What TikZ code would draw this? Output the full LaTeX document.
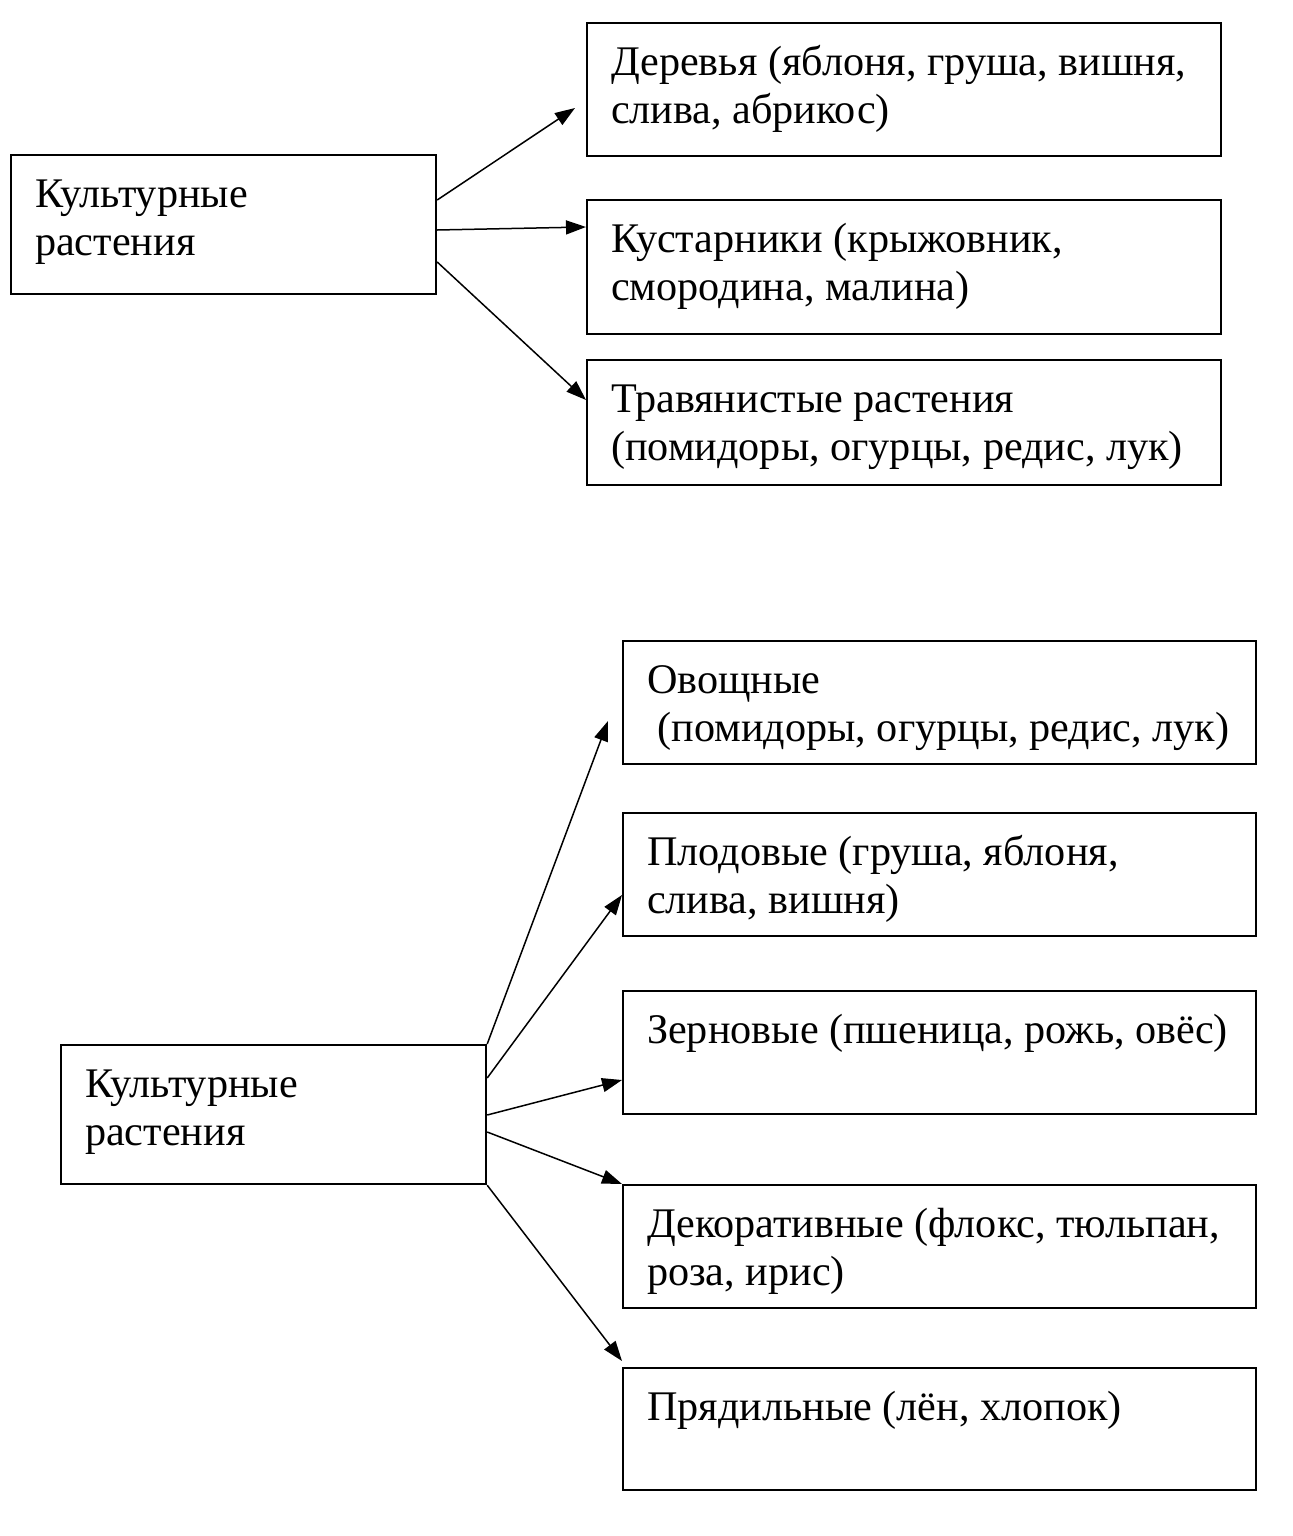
\documentclass[tikz,border=0pt]{standalone}
\usepackage{fontspec}
\setmainfont{Liberation Serif}
\usetikzlibrary{arrows.meta,calc,positioning}
\tikzstyle{plant}=[rectangle,draw=black,line width=1.1pt,inner xsep=12pt,inner ysep=0pt,anchor=north west]
\tikzstyle{link}=[line width=0.75pt,-{Triangle[length=10pt,width=7pt]}]
% box text: width, height, lines
\newcommand{\boxtext}[3]{\parbox[c][#2][t]{#1}{\raggedright\rule{0pt}{26pt}#3}}

\begin{document}
\begin{tikzpicture}[x=0.5pt,y=-0.5pt,font=\fontsize{21.1}{24}\selectfont]
    \useasboundingbox (0,0) rectangle (1292,1536);

    % first scheme
    \node[plant] (cultA) at (10,154) {\boxtext{188.5pt}{69.5pt}{Культурные\\растения}};
    \node[plant] (trees) at (586,22) {\boxtext{293pt}{66.5pt}{Деревья (яблоня, груша, вишня,\\слива, абрикос)}};
    \node[plant] (shrubs) at (586,199) {\boxtext{293pt}{67pt}{Кустарники (крыжовник,\\смородина, малина)}};
    \node[plant] (herbs) at (586,359) {\boxtext{293pt}{62.5pt}{Травянистые растения\\(помидоры, огурцы, редис, лук)}};

    \draw[link] ($(cultA.north east)+(0,46)$) -- ($(trees.north west)+(-11,86)$);
    \draw[link] ($(cultA.north east)+(0,76)$) -- ($(shrubs.north west)+(0,28)$);
    \draw[link] ($(cultA.north east)+(0,108)$) -- ($(herbs.north west)+(0,41)$);

    % second scheme
    \node[plant] (cultB) at (60,1044) {\boxtext{188.5pt}{69.5pt}{Культурные\\растения}};
    \node[plant] (veg) at (622,640) {\boxtext{292.5pt}{61.5pt}{Овощные\\\hspace*{0.25em}(помидоры, огурцы, редис, лук)}};
    \node[plant] (fruit) at (622,812) {\boxtext{292.5pt}{61.5pt}{Плодовые (груша, яблоня,\\слива, вишня)}};
    \node[plant] (grain) at (622,990) {\boxtext{292.5pt}{61.5pt}{Зерновые (пшеница, рожь, овёс)}};
    \node[plant] (deco) at (622,1184) {\boxtext{292.5pt}{61.5pt}{Декоративные (флокс, тюльпан,\\роза, ирис)}};
    \node[plant] (fibre) at (622,1367) {\boxtext{292.5pt}{61pt}{Прядильные (лён, хлопок)}};

    \draw[link] (cultB.north east) -- ($(veg.north west)+(-14,81)$);
    \draw[link] ($(cultB.north east)+(0,34)$) -- ($(fruit.north west)+(0,83)$);
    \draw[link] ($(cultB.north east)+(0,71)$) -- ($(grain.north west)+(0,90)$);
    \draw[link] ($(cultB.north east)+(0,88)$) -- (deco.north west);
    \draw[link] (cultB.south east) -- ($(fibre.north west)+(0,-6)$);
\end{tikzpicture}
\end{document}
